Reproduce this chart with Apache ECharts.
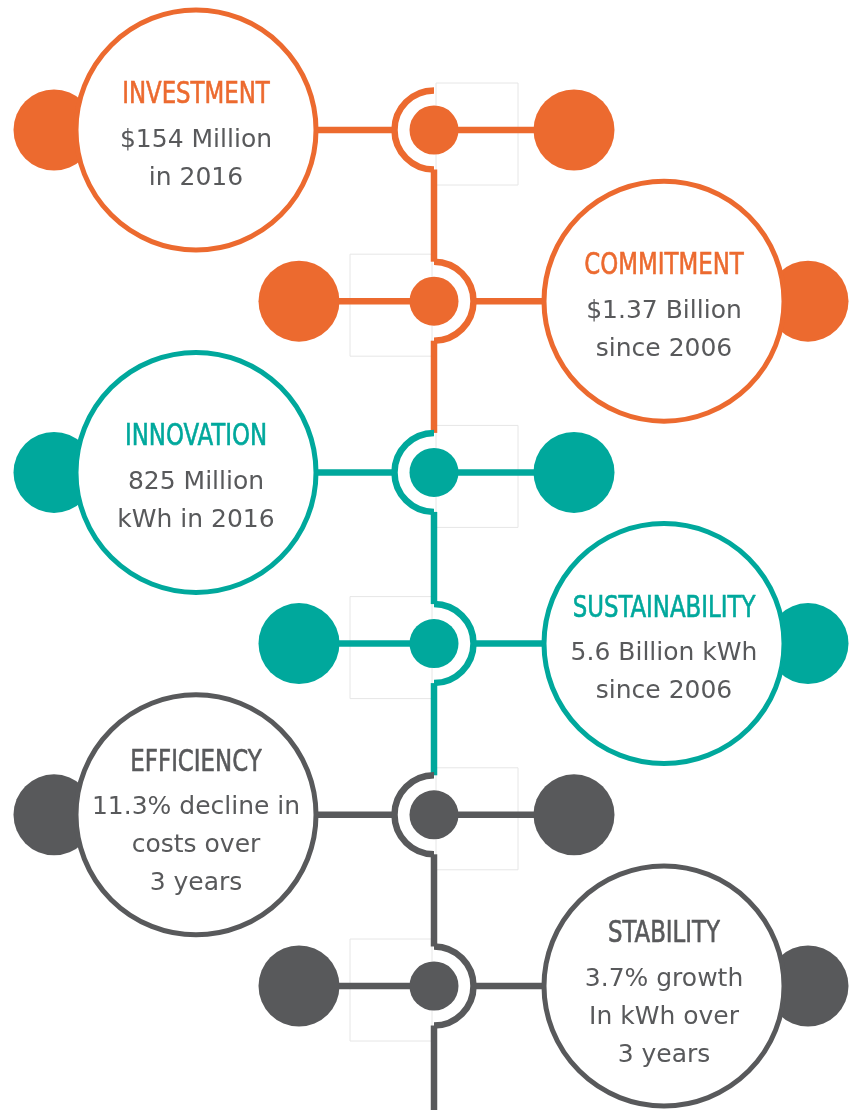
<!DOCTYPE html>
<html>
<head>
<meta charset="utf-8">
<script src="https://cdn.jsdelivr.net/npm/echarts@6/dist/echarts.min.js"></script>
<style>
  html, body { margin: 0; padding: 0; background: #fff; }
  #chart { width: 850px; height: 1110px; }
</style>
</head>
<body>
<div id="chart"></div>
<script>
// data
const titles = ['INVESTMENT', 'COMMITMENT', 'INNOVATION', 'SUSTAINABILITY', 'EFFICIENCY', 'STABILITY'];
const details = [
  ['$154 Million', 'in 2016'],
  ['$1.37 Billion', 'since 2006'],
  ['825 Million', 'kWh in 2016'],
  ['5.6 Billion kWh', 'since 2006'],
  ['11.3% decline in', 'costs over', '3 years'],
  ['3.7% growth', 'In kWh over', '3 years']
];
const sides = ['left', 'right', 'left', 'right', 'left', 'right'];
const colors = ['#EC6A2F', '#EC6A2F', '#00A89C', '#00A89C', '#58595B', '#58595B'];
const rows = [0, 1, 2, 3, 4, 5];

// layout (x in px from the spine, y in row units)
const bigX = { left: -238, right: 230 };
const outerX = { left: -380, right: 374 };
const innerX = { left: 140, right: -135 };
const ROW_PX = 171.2;
const TOP_PX = 130;
const RING_R = 39.5;
const LINE_W = 6.5;
const TEXT_GRAY = '#58595B';

const chart = echarts.init(document.getElementById('chart'));

function dirOf(i) { return sides[i] === 'left' ? -1 : 1; }

const option = {
  animation: false,
  backgroundColor: '#fff',
  grid: { left: 0, right: 0, top: 0, bottom: 0 },
  xAxis: { type: 'value', min: -434, max: 416, show: false },
  yAxis: {
    type: 'value', inverse: true, show: false,
    min: -TOP_PX / ROW_PX, max: (1110 - TOP_PX) / ROW_PX
  },
  series: [
    {
      // faint frames beside the spine nodes
      type: 'custom', silent: true, z: 1,
      data: rows.map(i => [0, i]),
      renderItem(params, api) {
        const i = api.value(1);
        const c = api.coord([0, i]);
        const d = -dirOf(i);
        return {
          type: 'rect',
          shape: { x: d > 0 ? c[0] + 2 : c[0] - 84, y: c[1] - 47, width: 82, height: 102 },
          style: { fill: null, stroke: '#e6e6e6', lineWidth: 1 }
        };
      }
    },
    {
      // spine
      type: 'custom', silent: true, z: 2,
      data: rows.map(i => [0, i]),
      renderItem(params, api) {
        const i = api.value(1);
        const a = api.coord([0, i]);
        const b = i < rows.length - 1 ? api.coord([0, i + 1]) : [a[0], 1120 + RING_R];
        return {
          type: 'line',
          shape: { x1: a[0], y1: a[1] + RING_R, x2: b[0], y2: b[1] - RING_R },
          style: { stroke: colors[i], lineWidth: LINE_W }
        };
      }
    },
    {
      // horizontal connectors
      type: 'custom', silent: true, z: 2,
      data: rows.map(i => [0, i]),
      renderItem(params, api) {
        const i = api.value(1);
        const s = sides[i];
        const d = dirOf(i);
        const big = api.coord([bigX[s], i]);
        const mid = api.coord([0, i]);
        const inner = api.coord([innerX[s], i]);
        return {
          type: 'group',
          children: [
            { type: 'line', shape: { x1: big[0], y1: big[1], x2: mid[0] + d * RING_R, y2: mid[1] },
              style: { stroke: colors[i], lineWidth: LINE_W } },
            { type: 'line', shape: { x1: mid[0], y1: mid[1], x2: inner[0], y2: inner[1] },
              style: { stroke: colors[i], lineWidth: LINE_W } }
          ]
        };
      }
    },
    {
      // small circles behind the big ones
      type: 'scatter', silent: true, z: 3, symbolSize: 81,
      data: rows.map(i => ({ value: [outerX[sides[i]], i], itemStyle: { color: colors[i], opacity: 1 } }))
    },
    {
      // big circles
      type: 'scatter', silent: true, z: 4, symbolSize: 240,
      data: rows.map(i => ({
        value: [bigX[sides[i]], i],
        itemStyle: { color: '#fff', borderColor: colors[i], borderWidth: 5, opacity: 1 }
      }))
    },
    {
      // small circles on the other side
      type: 'scatter', silent: true, z: 4, symbolSize: 81,
      data: rows.map(i => ({ value: [innerX[sides[i]], i], itemStyle: { color: colors[i], opacity: 1 } }))
    },
    {
      // dots on the spine
      type: 'scatter', silent: true, z: 5, symbolSize: 49,
      data: rows.map(i => ({ value: [0, i], itemStyle: { color: colors[i], opacity: 1 } }))
    },
    {
      // half rings
      type: 'custom', silent: true, z: 5,
      data: rows.map(i => [0, i]),
      renderItem(params, api) {
        const i = api.value(1);
        const c = api.coord([0, i]);
        const left = sides[i] === 'left';
        return {
          type: 'arc',
          shape: {
            cx: c[0], cy: c[1], r: RING_R,
            startAngle: left ? Math.PI / 2 : -Math.PI / 2,
            endAngle: left ? Math.PI * 1.5 : Math.PI / 2,
            clockwise: true
          },
          style: { fill: null, stroke: colors[i], lineWidth: LINE_W }
        };
      }
    },
    {
      // labels
      type: 'custom', silent: true, z: 6,
      data: rows.map(i => [0, i]),
      renderItem(params, api) {
        const i = api.value(1);
        const c = api.coord([bigX[sides[i]], i]);
        const n = details[i].length;
        const titleY = c[1] - 35 - 17 * (n - 2);
        const children = [{
          type: 'text', x: c[0], y: titleY, scaleX: 0.82,
          style: {
            text: titles[i], fill: colors[i],
            stroke: colors[i], lineWidth: 0.6,
            font: '31px "Liberation Sans Narrow", "DejaVu Sans Condensed", sans-serif',
            align: 'center', verticalAlign: 'middle',
            textAlign: 'center', textVerticalAlign: 'middle'
          }
        }];
        details[i].forEach((t, k) => {
          children.push({
            type: 'text', x: c[0], y: titleY + 45 + 38 * k,
            style: {
              text: t, fill: TEXT_GRAY,
              font: '25px "DejaVu Sans", sans-serif',
              align: 'center', verticalAlign: 'middle',
              textAlign: 'center', textVerticalAlign: 'middle'
            }
          });
        });
        return { type: 'group', children };
      }
    }
  ]
};

chart.setOption(option);
</script>
</body>
</html>
